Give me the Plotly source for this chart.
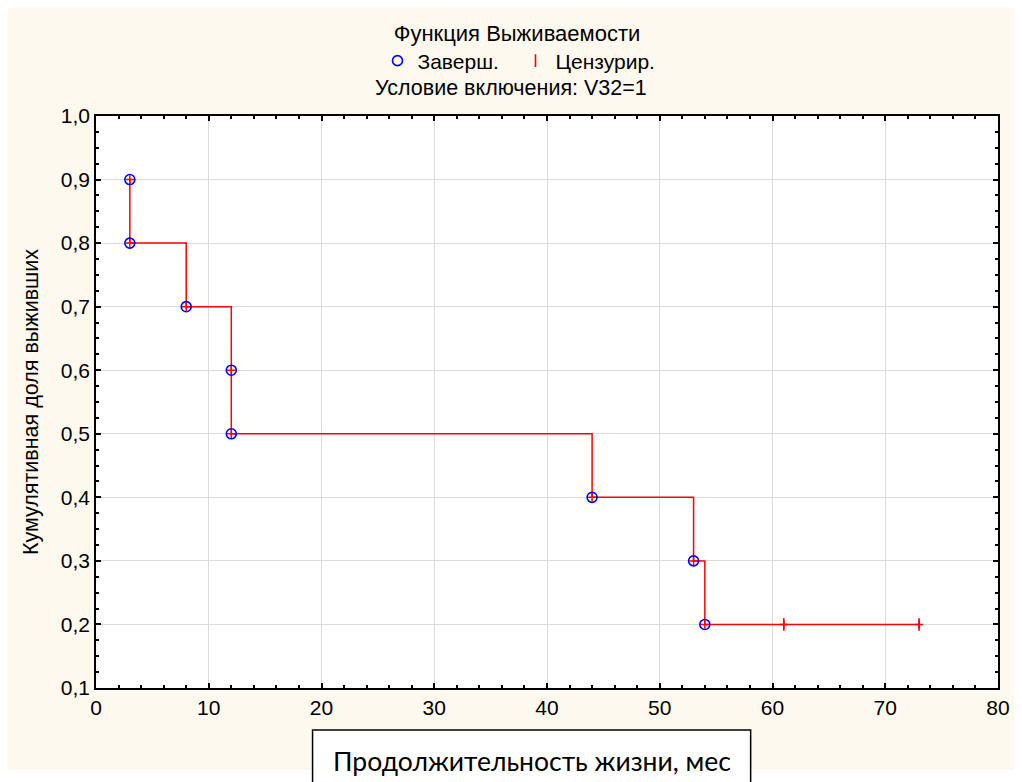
import plotly.graph_objects as go

# Data
event_time = [3, 3, 8, 12, 12, 44, 53, 54]
event_surv = [0.9, 0.8, 0.7, 0.6, 0.5, 0.4, 0.3, 0.2]
cens_time = [61, 73]
cens_surv = [0.2, 0.2]

title_text = "Функция Выживаемости"
subtitle_text = "Условие включения: V32=1"
x_title = "Продолжительность жизни, мес"
y_title = "Кумулятивная доля выживших"
legend_event = "Заверш."
legend_cens = "Цензурир."
x_ticks = [0, 10, 20, 30, 40, 50, 60, 70, 80]
y_ticks = [0.1, 0.2, 0.3, 0.4, 0.5, 0.6, 0.7, 0.8, 0.9, 1.0]

# page offset of the figure inside the html body is 8px
OFF = 8
W, H = 1014, 774
L, R, T, B = 96 - OFF, 1004 - OFF, 116 - OFF, 688 - OFF
pw, ph = R - L, B - T


def px(xpage):
    return (xpage - OFF - L) / pw


def py(ypage):
    return (B - (ypage - OFF)) / ph


FONT = "Liberation Sans, Arial, sans-serif"
CREAM = "#FDF9EF"

fig = go.Figure()

all_t = event_time + cens_time
all_s = event_surv + cens_surv
fig.add_trace(go.Scatter(
    x=all_t, y=all_s, mode="lines+markers", line_shape="hv",
    line=dict(color="#FF0000", width=1.5),
    marker=dict(symbol="cross-thin", size=6, line=dict(color="#FF0000", width=1.5)),
    showlegend=False, hoverinfo="skip"))

fig.add_trace(go.Scatter(
    x=event_time, y=event_surv, mode="markers", name=legend_event + "\u00a0\u00a0",
    marker=dict(symbol="circle-open", size=10, color="#0000FF",
                line=dict(color="#0000FF", width=1.6))))

fig.add_trace(go.Scatter(
    x=cens_time, y=cens_surv, mode="markers", name=legend_cens,
    marker=dict(symbol="line-ns", size=9, color="#FF0000",
                line=dict(color="#FF0000", width=1.6))))

axis_common = dict(
    showline=True, linecolor="black", linewidth=1.5, mirror="ticks",
    ticks="inside", ticklen=5, tickwidth=1.5, tickcolor="black",
    showgrid=True, gridcolor="#DCDCDC", gridwidth=1, zeroline=False,
    tickfont=dict(family=FONT, size=21, color="black"),
)

fig.update_xaxes(range=[0, 80], tickvals=x_ticks, **axis_common,
                 minor=dict(ticks="inside", ticklen=3, tickcolor="black", dtick=2, showgrid=False))
fig.update_yaxes(range=[0.1, 1.0], tickvals=y_ticks, tickformat=".1f", **axis_common,
                 minor=dict(ticks="inside", ticklen=3, tickcolor="black", dtick=0.025, showgrid=False),
                 title=dict(text=y_title, font=dict(family=FONT, size=21.5, color="black"), standoff=16))

shapes = [
    dict(type="rect", xref="paper", yref="paper", x0=px(0), x1=px(1040), y0=py(770), y1=py(8),
         fillcolor=CREAM, line=dict(width=0), layer="below"),
    dict(type="rect", xref="paper", yref="paper", x0=0, x1=1, y0=0, y1=1,
         fillcolor="white", line=dict(width=0), layer="below"),
    dict(type="rect", xref="paper", yref="paper", x0=px(314), x1=px(755), y0=py(800), y1=py(730),
         fillcolor="white", line=dict(color="black", width=1.5), layer="above"),
]

annotations = [
    dict(text=subtitle_text, xref="paper", yref="paper", x=px(514), y=py(88),
         xanchor="center", yanchor="middle", showarrow=False,
         font=dict(family=FONT, size=21.5, color="black")),
    dict(text=x_title, xref="paper", yref="paper", x=px(535), y=py(761),
         xanchor="center", yanchor="middle", showarrow=False,
         font=dict(family="Lato, Carlito, Calibri, sans-serif", size=26.5, color="black")),
]

fig.update_layout(
    width=W, height=H,
    margin=dict(l=L, r=W - R, t=T, b=H - B),
    paper_bgcolor="white", plot_bgcolor="white",
    separators=", ",
    font=dict(family=FONT, size=21, color="black"),
    title=dict(text=title_text, x=(517 - OFF) / W, xref="container", xanchor="center",
               y=1 - (33 - OFF) / H, yref="container", yanchor="middle",
               font=dict(family=FONT, size=22, color="black")),
    legend=dict(orientation="h", xref="container", yref="container",
                x=(519 - OFF) / W, xanchor="center", y=1 - (61 - OFF) / H, yanchor="middle",
                bgcolor="rgba(0,0,0,0)", font=dict(family=FONT, size=21, color="black")),
    shapes=shapes, annotations=annotations,
)

fig.write_html("out.html")
